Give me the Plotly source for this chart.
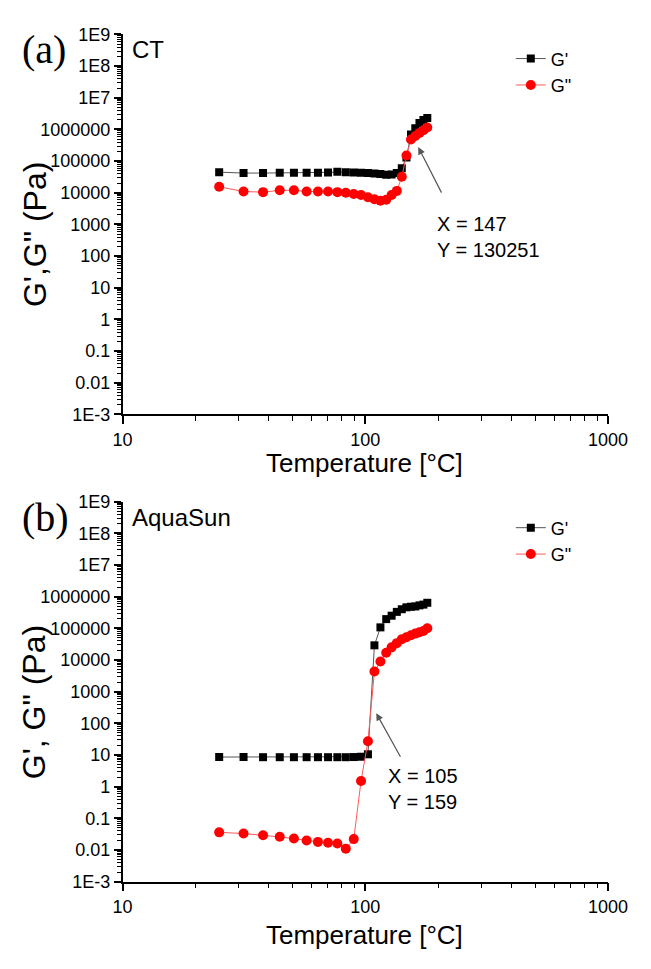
import plotly.graph_objects as go

# ---------------- data ----------------
temp_ct = [25, 31.5, 37.9, 44.4, 50.8, 57.3, 63.8, 70.2, 76.7, 83.1, 89.6, 96.0, 102.5,
           109.0, 115.4, 121.9, 128.3, 134.8, 141.3, 147.7, 154.2, 160.6, 167.1, 173.5, 180.0]
gp_ct = [45000, 42000, 42000, 43000, 43000, 43000, 43000, 44000, 46000, 45000, 44000, 43000, 42000,
         41000, 39000, 37000, 38000, 42000, 60000, 130251, 700000, 1100000, 1600000, 2000000, 2300000]
gpp_ct = [15500, 11000, 10500, 12000, 12000, 11000, 11000, 11000, 10500, 10000, 9200, 8500, 7200,
          6300, 5600, 6000, 8500, 11500, 32000, 150000, 480000, 620000, 780000, 950000, 1150000]

temp_aq = [25, 31.5, 37.9, 44.4, 50.8, 57.3, 63.8, 70.2, 76.7, 83.1, 89.6, 96.0, 102.5,
           109.0, 115.4, 121.9, 128.3, 134.8, 141.3, 147.7, 154.2, 160.6, 167.1, 173.5, 180.0]
gp_aq = [8.6, 8.6, 8.5, 8.5, 8.5, 8.5, 8.5, 8.5, 8.5, 8.5, 8.6, 8.8, 10.5,
         29000, 107000, 195000, 250000, 330000, 400000, 460000, 480000, 490000, 530000, 560000, 640000]
gpp_aq = [0.036, 0.033, 0.029, 0.026, 0.023, 0.020, 0.018, 0.017, 0.016, 0.011, 0.022, 1.5, 27,
          4300, 8900, 16800, 25000, 34000, 45000, 52000, 60000, 68000, 75000, 82000, 100000]

y_tickvals = [1e9, 1e8, 1e7, 1e6, 1e5, 1e4, 1e3, 100, 10, 1, 0.1, 0.01, 1e-3]
y_ticktext = ["1E9", "1E8", "1E7", "1000000", "100000", "10000", "1000", "100", "10", "1",
              "0.1", "0.01", "1E-3"]
x_tickvals = [10, 100, 1000]
x_ticktext = ["10", "100", "1000"]

# ---------------- layout geometry ----------------
W, H = 651, 969
def px_x(p):
    return p / W
def px_y(p):
    return 1 - p / H

FONT = "Liberation Sans, Arial, sans-serif"
SERIF = "Liberation Serif, Times New Roman, serif"

y_minor = [m * 10.0 ** k for k in range(-3, 9) for m in range(2, 10)]
x_minor = [m * 10.0 ** k for k in range(1, 3) for m in range(2, 10)]

fig = go.Figure()

sq = dict(symbol="square", size=8, color="black")
ci = dict(symbol="circle", size=10, color="#ff0000")

fig.add_trace(go.Scatter(x=temp_ct, y=gp_ct, mode="lines+markers", name="G'",
                         line=dict(color="#555555", width=1), marker=sq,
                         xaxis="x", yaxis="y", legend="legend"))
fig.add_trace(go.Scatter(x=temp_ct, y=gpp_ct, mode="lines+markers", name='G"',
                         line=dict(color="#ff5a5a", width=1), marker=ci,
                         xaxis="x", yaxis="y", legend="legend"))
fig.add_trace(go.Scatter(x=temp_aq, y=gp_aq, mode="lines+markers", name="G'",
                         line=dict(color="#555555", width=1), marker=sq,
                         xaxis="x2", yaxis="y2", legend="legend2"))
fig.add_trace(go.Scatter(x=temp_aq, y=gpp_aq, mode="lines+markers", name='G"',
                         line=dict(color="#ff5a5a", width=1), marker=ci,
                         xaxis="x2", yaxis="y2", legend="legend2"))

def xaxis_style(anchor):
    return dict(type="log", range=[1, 3], domain=[px_x(118), px_x(627)], anchor=anchor,
                tickmode="array", tickvals=x_tickvals, ticktext=x_ticktext,
                showline=True, linecolor="black", linewidth=1.5, mirror=False,
                ticks="outside", ticklen=8, tickwidth=1.5, tickcolor="black",
                showgrid=False, zeroline=False, ticklabeloverflow="allow",
                tickfont=dict(family=FONT, size=18, color="black"),
                minor=dict(tickmode="array", tickvals=x_minor, ticks="outside",
                           ticklen=5, tickwidth=1, tickcolor="black", showgrid=False))

def yaxis_style(anchor, top, bottom):
    return dict(type="log", range=[-3, 9], domain=[px_y(bottom), px_y(top)], anchor=anchor,
                tickmode="array", tickvals=y_tickvals, ticktext=y_ticktext,
                showline=True, linecolor="black", linewidth=1.5, mirror=False,
                ticks="outside", ticklen=7, tickwidth=1.5, tickcolor="black",
                showgrid=False, zeroline=False, ticklabeloverflow="allow",
                tickfont=dict(family=FONT, size=18, color="black"),
                minor=dict(tickmode="array", tickvals=y_minor, ticks="outside",
                           ticklen=4, tickwidth=1, tickcolor="black", showgrid=False))

legend_common = dict(font=dict(family=FONT, size=18, color="black"),
                     bgcolor="rgba(0,0,0,0)", borderwidth=0, xanchor="left", yanchor="top",
                     tracegroupgap=0, itemwidth=30)

fig.update_layout(
    width=W, height=H,
    margin=dict(l=0, r=0, t=0, b=0),
    paper_bgcolor="white", plot_bgcolor="white",
    font=dict(family=FONT, color="black"),
    xaxis=xaxis_style("y"),
    yaxis=yaxis_style("x", 25, 413),
    xaxis2=xaxis_style("y2"),
    yaxis2=yaxis_style("x2", 502, 890),
    legend=dict(x=px_x(525), y=px_y(31), **legend_common),
    legend2=dict(x=px_x(525), y=px_y(510), **legend_common),
    showlegend=True,
)

ann = []
# panel labels
ann.append(dict(text="(a)", x=px_x(11), y=px_y(40), xref="paper", yref="paper",
                xanchor="left", yanchor="middle", showarrow=False,
                font=dict(family=SERIF, size=40, color="black")))
ann.append(dict(text="CT", x=px_x(126), y=px_y(40), xref="paper", yref="paper",
                xanchor="left", yanchor="middle", showarrow=False,
                font=dict(family=FONT, size=24, color="black")))
ann.append(dict(text="(b)", x=px_x(11), y=px_y(518), xref="paper", yref="paper",
                xanchor="left", yanchor="middle", showarrow=False,
                font=dict(family=SERIF, size=40, color="black")))
ann.append(dict(text="AquaSun", x=px_x(126), y=px_y(518), xref="paper", yref="paper",
                xanchor="left", yanchor="middle", showarrow=False,
                font=dict(family=FONT, size=24, color="black")))
# axis titles
for yc, txt in [(229, "G',G\" (Pa)"), (707, "G', G\" (Pa)")]:
    ann.append(dict(text=txt, x=px_x(26), y=px_y(yc), xref="paper", yref="paper",
                    xanchor="center", yanchor="middle", textangle=-90, showarrow=False,
                    font=dict(family=FONT, size=32, color="black")))
for yc in [463, 944]:
    ann.append(dict(text="Temperature [°C]", x=px_x(372), y=px_y(yc), xref="paper", yref="paper",
                    xanchor="center", yanchor="middle", showarrow=False,
                    font=dict(family=FONT, size=26, color="black")))
# arrows
ann.append(dict(text="", x=2.218, y=5.443, xref="x", yref="y", showarrow=True,
                ax=24, ay=47, arrowhead=2, arrowsize=1.2, arrowwidth=1.2, arrowcolor="#555555"))
ann.append(dict(text="", x=2.045, y=2.319, xref="x2", yref="y2", showarrow=True,
                ax=25, ay=45, arrowhead=2, arrowsize=1.2, arrowwidth=1.2, arrowcolor="#555555"))
ann.append(dict(text="X = 147<br>Y = 130251", x=px_x(446), y=px_y(205), xref="paper", yref="paper",
                xanchor="left", yanchor="top", align="left", showarrow=False,
                font=dict(family=FONT, size=20, color="black")))
ann.append(dict(text="X = 105<br>Y = 159", x=px_x(394), y=px_y(769), xref="paper", yref="paper",
                xanchor="left", yanchor="top", align="left", showarrow=False,
                font=dict(family=FONT, size=20, color="black")))
fig.update_layout(annotations=ann)

page_fix = ("document.documentElement.style.margin='0';"
            "document.documentElement.style.overflow='hidden';"
            "document.body.style.margin='0';"
            "document.body.style.overflow='hidden';")

fig.write_html("out.html", post_script=page_fix)
